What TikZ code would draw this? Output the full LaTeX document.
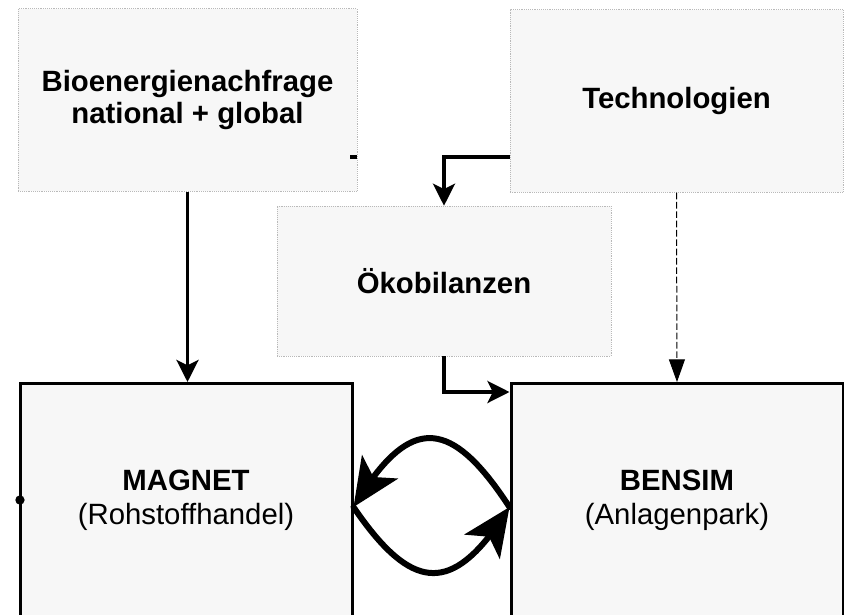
\documentclass[tikz,border=0pt]{standalone}
\usepackage{fontspec}
\setmainfont{Liberation Sans}
\usetikzlibrary{arrows.meta, bending}

\begin{document}
\begin{tikzpicture}[x=0.75pt, y=-0.75pt,
            input/.style={draw=gray!55, densely dotted, fill=gray!6, align=center, font=\fontsize{22}{24.5}\selectfont\bfseries},
            model/.style={draw, line width=2.25pt, fill=gray!6, minimum width=249pt, minimum height=174.75pt, align=center, font=\fontsize{22}{25.5}\selectfont},
            link/.style={-{Stealth[length=16.5pt, width=16.5pt, inset=4pt]}, line width=2.6pt},
            exchange/.style={-{Stealth[length=36pt, width=32pt, inset=9pt, flex]}, line width=4.5pt, line cap=round}]

            \useasboundingbox (0,0) rectangle (844,615);

            \node[input, minimum width=254pt, minimum height=137pt] (bio) at (187.5,100) {Bioenergienachfrage\\national + global};
            \node[input, minimum width=250pt, minimum height=137pt] (tech) at (676.5,101) {Technologien};
            \node[input, minimum width=250.5pt, minimum height=112.5pt] (oeko) at (444,281) {Ökobilanzen};
            \node[model] (magnet) at (186,500) {\textbf{MAGNET}\\(Rohstoffhandel)};
            \node[model] (bensim) at (677,500) {\textbf{BENSIM}\\(Anlagenpark)};

            \coordinate (stub) at (350,157);
            \draw[line width=2.6pt] (stub) -- (bio.east |- stub);
            \draw[link] (tech.west |- stub) -| (oeko.north);
            \draw[link] (oeko.south) |- ([yshift=-7.5pt]bensim.north west);
            \draw[link] (bio.south) -- (bio.south |- magnet.north);
            \draw[-{Triangle[length=17pt, width=12pt]}, line width=0.75pt, dash pattern=on 5pt off 2pt] (tech.south) -- (bensim.north);

            \draw[exchange] ([yshift=-5.3pt]bensim.west) .. controls +(-60,-92) and +(55,-92) .. ([yshift=-5.3pt]magnet.east);
            \draw[exchange] ([yshift=-5.3pt]magnet.east) .. controls +(60,88) and +(-55,88) .. ([yshift=-5.3pt]bensim.west);

            \fill ([xshift=1.1pt]magnet.west) circle (3.5pt);
        \end{tikzpicture}
\end{document}
